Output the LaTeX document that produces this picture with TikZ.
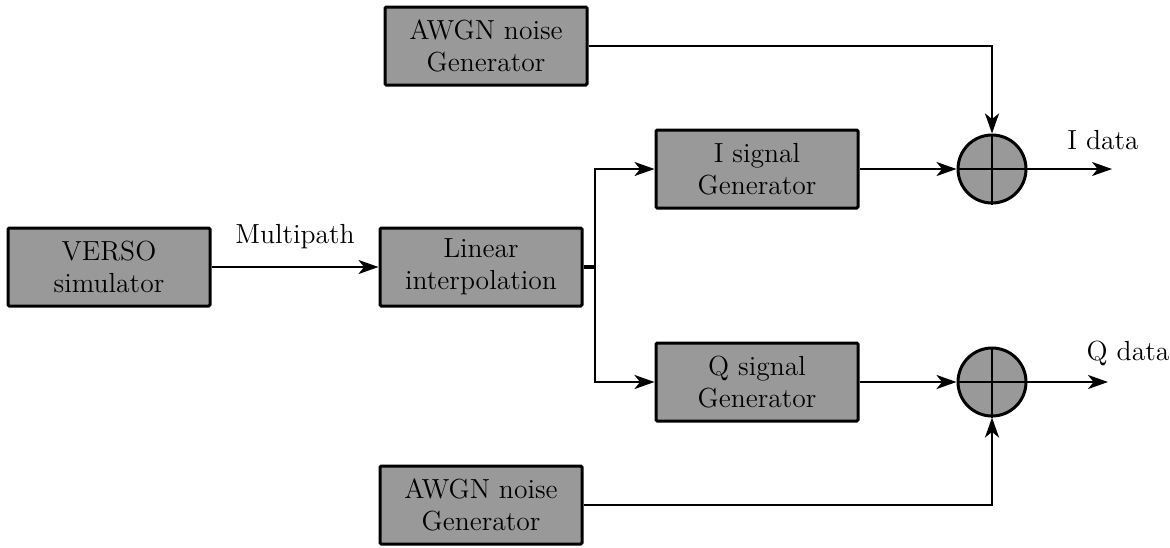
\documentclass[tikz,border=0pt]{standalone}
\usetikzlibrary{arrows.meta}
\begin{document}
\begin{tikzpicture}[x=0.5pt,y=-0.5pt,
  font=\fontsize{13.8}{16}\selectfont,
  block/.style={draw, line width=1.5pt, fill=black!40, rounded corners=0.6pt,
    minimum width=101pt, minimum height=39pt, align=center, inner sep=0pt},
  adder/.style={draw, line width=1.5pt, fill=black!40, circle,
    minimum size=34pt, inner sep=0pt},
  link/.style={line width=1.3pt, -{Stealth[length=10pt,width=7pt,inset=2.8pt]}},
  wire/.style={line width=1.3pt}]
\useasboundingbox (0,0) rectangle (1170,547);

% blocks
\node[block] (verso) at (109,267) {VERSO\\simulator};
\node[block] (lin)   at (481,267) {Linear\\interpolation};
\node[block] (isig)  at (757,169) {I signal\\Generator};
\node[block] (qsig)  at (757,382) {Q signal\\Generator};
\node[block] (n1)    at (486,46)  {AWGN noise\\Generator};
\node[block] (n2)    at (481,505) {AWGN noise\\Generator};

% summing junctions
\node[adder] (s1) at (992,169) {};
\node[adder] (s2) at (992,382) {};
\foreach \s in {s1,s2}{
  \draw[line width=1.3pt] (\s.north) -- (\s.south) (\s.west) -- (\s.east);
}

% outputs
\coordinate (iout) at (1112,169);
\coordinate (qout) at (1108,382);
\node (ilab) at (1103,140) {I data};
\node (qlab) at (1128,353) {Q data};

% connections
\draw[link] (verso) -- node[above=5pt] (mp) {Multipath} (lin);
\coordinate (split) at (595,267);
\draw[line width=2.2pt] (lin.east) -- (split);
\draw[link] (split) |- (isig.west);
\draw[link] (split) |- (qsig.west);
\draw[link] (isig) -- (s1);
\draw[link] (qsig) -- (s2);
\draw[link] (n1.east) -| (s1.north);
\draw[link] (n2.east) -| (s2.south);
\draw[link] (s1.east) -- (iout);
\draw[link] (s2.east) -- (qout);
\end{tikzpicture}
\end{document}
